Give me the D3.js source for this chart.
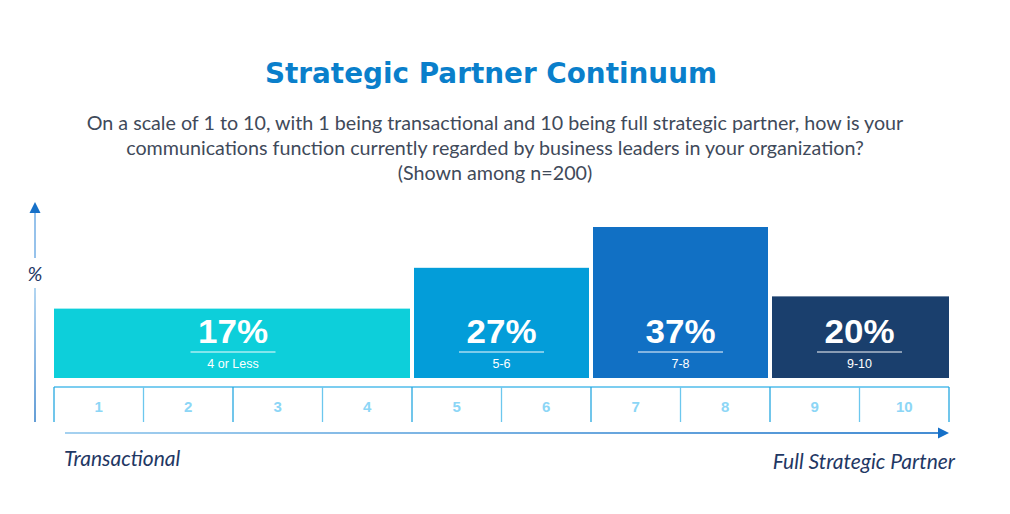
<!DOCTYPE html>
<html>
<head>
<meta charset="utf-8">
<script src="https://cdn.jsdelivr.net/npm/d3@7"></script>
<style>
  html, body { margin: 0; padding: 0; background: #fff; }
  svg { display: block; }
</style>
</head>
<body>
<svg id="chart" width="1010" height="514"></svg>
<script>
const title = "Strategic Partner Continuum";
const subtitleLines = [
  "On a scale of 1 to 10, with 1 being transactional and 10 being full strategic partner, how is your",
  "communications function currently regarded by business leaders in your organization?",
  "(Shown among n=200)"
];
const groups = ["4 or Less", "5-6", "7-8", "9-10"];
const groupStart = [1, 5, 7, 9];
const groupEnd = [4, 6, 8, 10];
const values = [17, 27, 37, 20];
const barColors = ["#0dcfda", "#039dd9", "#1170c4", "#1a3f6d"];
const scalePoints = ["1", "2", "3", "4", "5", "6", "7", "8", "9", "10"];
const leftLabel = "Transactional";
const rightLabel = "Full Strategic Partner";
const yLabel = "%";

const svg = d3.select("#chart");
const defs = svg.append("defs");

const x = d3.scaleBand().domain(scalePoints).range([54, 949]).padding(0);
const y = d3.scaleLinear().domain([0, 37]).range([378, 227]);

// Title
svg.append("text")
  .attr("x", 491).attr("y", 83)
  .attr("text-anchor", "middle")
  .attr("font-family", "'DejaVu Sans', Verdana, sans-serif")
  .attr("font-weight", "bold")
  .attr("font-size", 28)
  .attr("textLength", 452)
  .attr("lengthAdjust", "spacingAndGlyphs")
  .attr("fill", "#0a7fcb")
  .text(title);

// Subtitle
svg.append("g").selectAll("text").data(subtitleLines).join("text")
  .attr("x", 495)
  .attr("y", (d, i) => 130 + i * 25)
  .attr("text-anchor", "middle")
  .attr("font-family", "Lato, 'Open Sans', sans-serif")
  .attr("font-size", 19.7)
  .attr("fill", "#3f4a5a")
  .text(d => d);

// Bars
const gap = 2;
const bars = svg.append("g").selectAll("g").data(groups).join("g");
bars.append("rect")
  .attr("x", (d, i) => x(String(groupStart[i])) + (i === 0 ? 0 : gap))
  .attr("width", (d, i) => x(String(groupEnd[i])) + x.bandwidth() - x(String(groupStart[i])) - (i === 0 ? gap : (i === groups.length - 1 ? gap : 2 * gap)))
  .attr("y", (d, i) => y(values[i]))
  .attr("height", (d, i) => y(0) - y(values[i]))
  .attr("fill", (d, i) => barColors[i]);

const cx = (i) => (x(String(groupStart[i])) + x(String(groupEnd[i])) + x.bandwidth()) / 2;

bars.append("text")
  .attr("x", (d, i) => cx(i))
  .attr("y", 343)
  .attr("text-anchor", "middle")
  .attr("font-family", "Liberation Sans, Arial, sans-serif")
  .attr("font-weight", "bold")
  .attr("font-size", 33)
  .attr("textLength", 70)
  .attr("lengthAdjust", "spacingAndGlyphs")
  .attr("fill", "#ffffff")
  .text((d, i) => values[i] + "%");

bars.append("line")
  .attr("x1", (d, i) => cx(i) - 42.5)
  .attr("x2", (d, i) => cx(i) + 42.5)
  .attr("y1", 352).attr("y2", 352)
  .attr("stroke", "rgba(255,255,255,0.65)")
  .attr("stroke-width", 1.5);

bars.append("text")
  .attr("x", (d, i) => cx(i))
  .attr("y", 367.5)
  .attr("text-anchor", "middle")
  .attr("font-family", "Liberation Sans, Arial, sans-serif")
  .attr("font-size", 12.5)
  .attr("fill", "#ffffff")
  .text(d => d);

// Scale cells
const cells = svg.append("g");
cells.append("line")
  .attr("x1", x.range()[0]).attr("x2", x.range()[1])
  .attr("y1", 387).attr("y2", 387)
  .attr("stroke", "#7ccdf0").attr("stroke-width", 2);
const ticksX = scalePoints.map(p => x(p)).concat([x.range()[1]]);
cells.selectAll("line.v").data(ticksX).join("line")
  .attr("class", "v")
  .attr("x1", d => d).attr("x2", d => d)
  .attr("y1", 387).attr("y2", 422)
  .attr("stroke", (d, i) => i % 2 === 0 ? "#25a8e0" : "#6cc7ee")
  .attr("stroke-width", 1.3);
cells.selectAll("text").data(scalePoints).join("text")
  .attr("x", d => x(d) + x.bandwidth() / 2)
  .attr("y", 411.5)
  .attr("text-anchor", "middle")
  .attr("font-family", "Liberation Sans, Arial, sans-serif")
  .attr("font-weight", "bold")
  .attr("font-size", 15)
  .attr("fill", "#8cd6f6")
  .text(d => d);

// Horizontal arrow
const hg = defs.append("linearGradient").attr("id", "hgrad")
  .attr("x1", "0%").attr("x2", "100%").attr("y1", "0%").attr("y2", "0%");
hg.append("stop").attr("offset", "0%").attr("stop-color", "#8fc6ec");
hg.append("stop").attr("offset", "100%").attr("stop-color", "#1670c8");
svg.append("rect")
  .attr("x", 65).attr("y", 432.2).attr("width", 874).attr("height", 1.6)
  .attr("fill", "url(#hgrad)");
svg.append("path")
  .attr("d", "M938,427.5 L949,433 L938,438.5 Z")
  .attr("fill", "#1670c8");

// Vertical axis arrow
const vg = defs.append("linearGradient").attr("id", "vgrad")
  .attr("x1", "0%").attr("x2", "0%").attr("y1", "0%").attr("y2", "100%");
vg.append("stop").attr("offset", "0%").attr("stop-color", "#9fcbee");
vg.append("stop").attr("offset", "100%").attr("stop-color", "#3f86cc");
svg.append("rect")
  .attr("x", 34.2).attr("y", 288).attr("width", 1.6).attr("height", 134)
  .attr("fill", "url(#vgrad)");
svg.append("rect")
  .attr("x", 34.2).attr("y", 212).attr("width", 1.6).attr("height", 46)
  .attr("fill", "#7db3e6");
svg.append("path")
  .attr("d", "M29.5,213 L35,202 L40.5,213 Z")
  .attr("fill", "#1670c8");
svg.append("text")
  .attr("x", 35).attr("y", 281)
  .attr("text-anchor", "middle")
  .attr("font-family", "Lato, 'Open Sans', sans-serif")
  .attr("font-style", "italic")
  .attr("font-size", 20)
  .attr("fill", "#1f3864")
  .text(yLabel);

// End labels
svg.append("text")
  .attr("x", 64).attr("y", 466)
  .attr("font-family", "Lato, 'Open Sans', sans-serif")
  .attr("font-style", "italic")
  .attr("font-size", 21)
  .attr("fill", "#1f3864")
  .text(leftLabel);
svg.append("text")
  .attr("x", 955).attr("y", 469)
  .attr("text-anchor", "end")
  .attr("font-family", "Lato, 'Open Sans', sans-serif")
  .attr("font-style", "italic")
  .attr("font-size", 21)
  .attr("fill", "#1f3864")
  .text(rightLabel);
</script>
</body>
</html>
